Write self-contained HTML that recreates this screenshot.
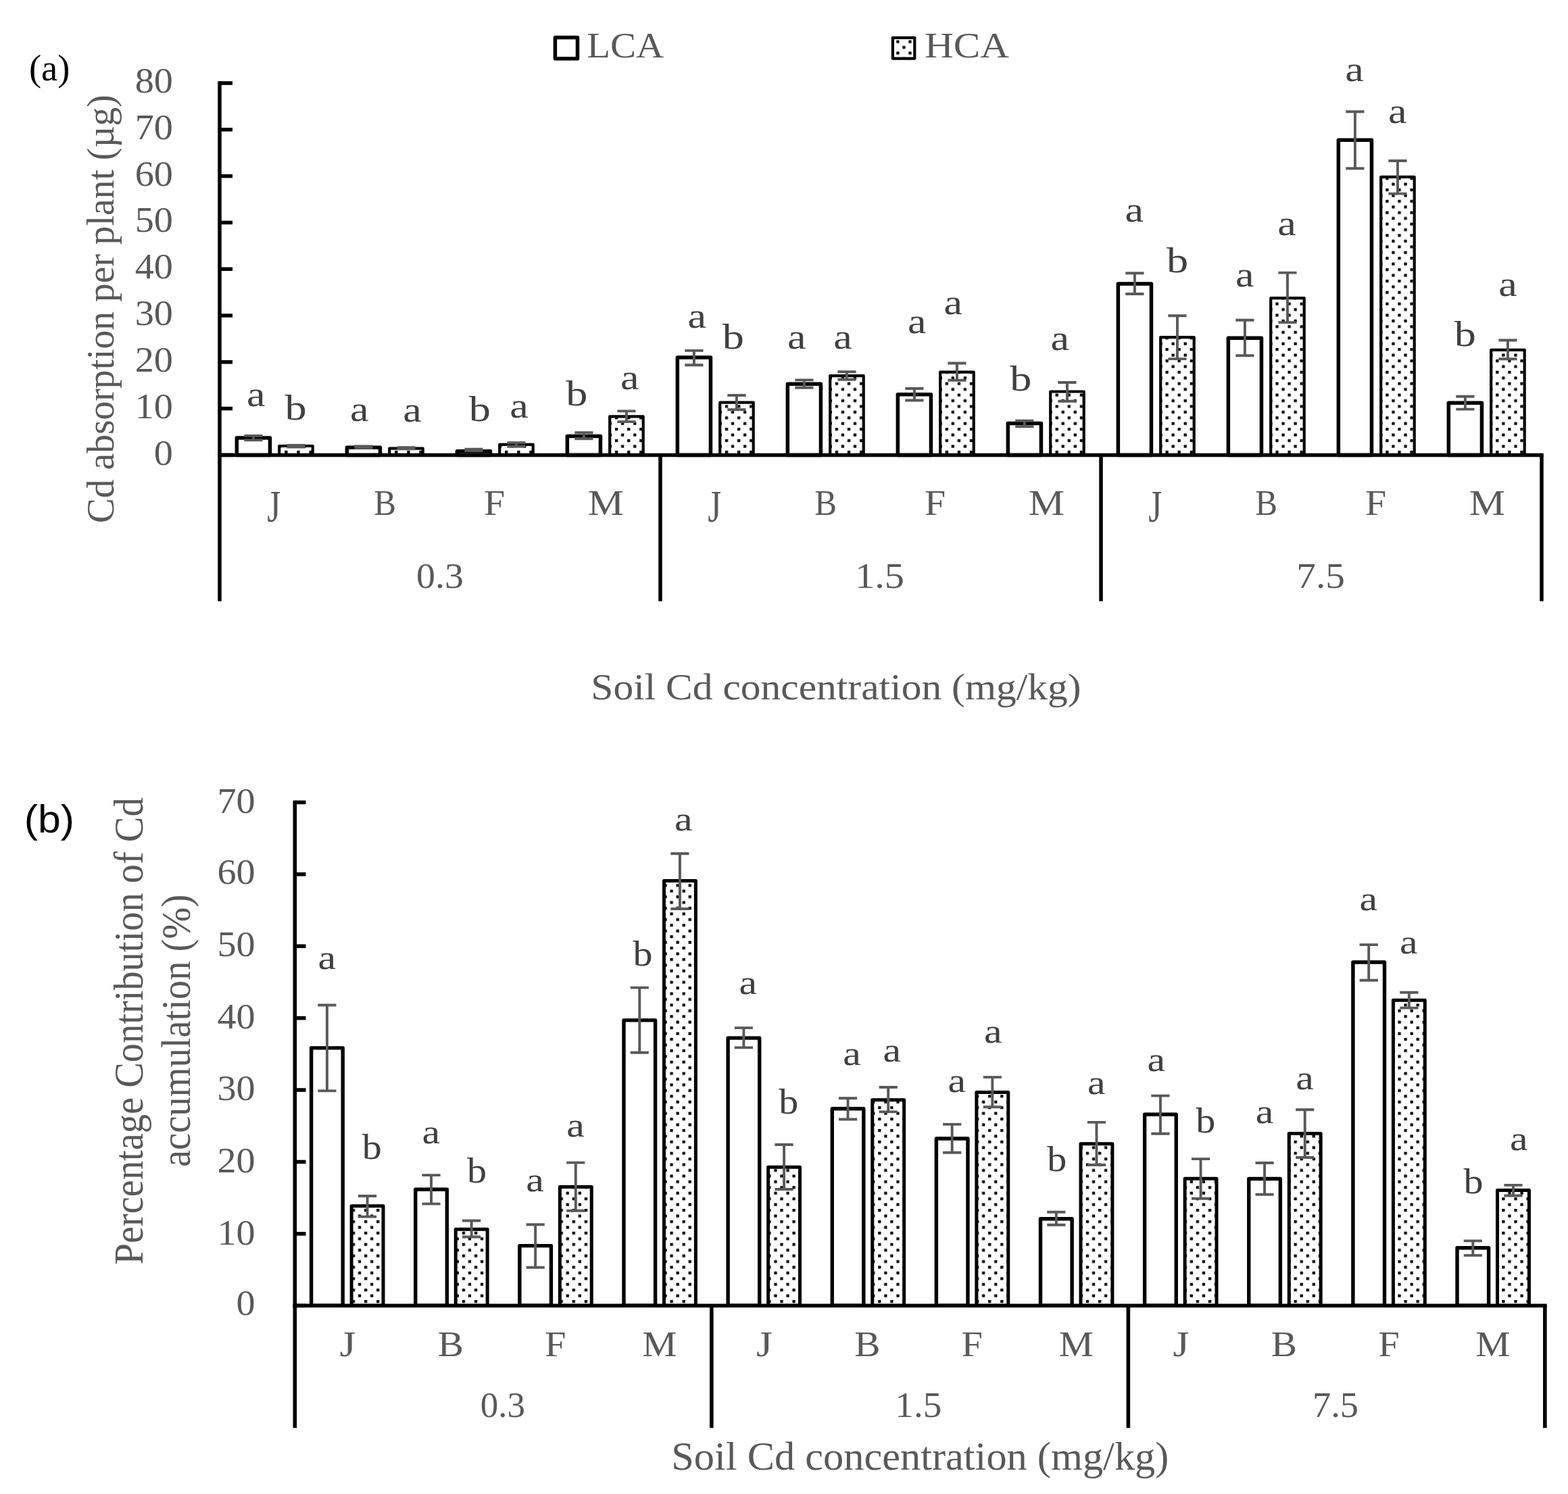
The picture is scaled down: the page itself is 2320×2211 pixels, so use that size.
<!DOCTYPE html>
<html lang="en"><head><meta charset="utf-8"><title>Cd absorption and accumulation</title>
<style>html,body{margin:0;padding:0;background:#fff}body{width:2320px;height:2211px;overflow:hidden}svg{display:block}text{font-kerning:none;white-space:pre}.s{font-family:"Liberation Serif",serif}.n{font-family:"Liberation Sans",sans-serif}</style>
</head><body>
<svg width="2320" height="2211" viewBox="0 0 2320 2211" role="img" aria-label="Bar charts of Cd absorption per plant and percentage contribution of Cd accumulation">
<defs>
<pattern id="pa" patternUnits="userSpaceOnUse" x="4.95" y="8.94" width="18.10" height="16.87">
<rect width="18.10" height="16.87" fill="#fff"/>
<rect x="0" y="0" width="4.3" height="4.3" rx="0.6" fill="#000"/>
<rect x="9.05" y="8.44" width="4.3" height="4.3" rx="0.6" fill="#000"/>
</pattern>
<pattern id="pb" patternUnits="userSpaceOnUse" x="14.05" y="0.76" width="18.10" height="16.87">
<rect width="18.10" height="16.87" fill="#fff"/>
<rect x="0" y="0" width="4.3" height="4.3" rx="0.6" fill="#000"/>
<rect x="9.05" y="8.44" width="4.3" height="4.3" rx="0.6" fill="#000"/>
</pattern>
</defs>
<rect width="2320" height="2211" fill="#fff"/>
<g><rect x="350.35" y="648.05" width="49.10" height="25.35" fill="#fff" stroke="#000" stroke-width="5.5" stroke-linejoin="round"/><rect x="413.20" y="660.00" width="49.50" height="13.40" fill="url(#pa)" stroke="#000" stroke-width="4.2" stroke-linejoin="round"/><rect x="513.35" y="662.25" width="49.10" height="11.15" fill="#fff" stroke="#000" stroke-width="5.5" stroke-linejoin="round"/><rect x="576.20" y="663.70" width="49.50" height="9.70" fill="url(#pa)" stroke="#000" stroke-width="4.2" stroke-linejoin="round"/><rect x="676.35" y="667.65" width="49.10" height="5.75" fill="#fff" stroke="#000" stroke-width="5.5" stroke-linejoin="round"/><rect x="739.20" y="657.80" width="49.50" height="15.60" fill="url(#pa)" stroke="#000" stroke-width="4.2" stroke-linejoin="round"/><rect x="839.35" y="645.55" width="49.10" height="27.85" fill="#fff" stroke="#000" stroke-width="5.5" stroke-linejoin="round"/><rect x="902.20" y="616.30" width="49.50" height="57.10" fill="url(#pa)" stroke="#000" stroke-width="4.2" stroke-linejoin="round"/><rect x="1002.35" y="528.95" width="49.10" height="144.45" fill="#fff" stroke="#000" stroke-width="5.5" stroke-linejoin="round"/><rect x="1065.20" y="595.60" width="49.50" height="77.80" fill="url(#pa)" stroke="#000" stroke-width="4.2" stroke-linejoin="round"/><rect x="1165.35" y="568.25" width="49.10" height="105.15" fill="#fff" stroke="#000" stroke-width="5.5" stroke-linejoin="round"/><rect x="1228.20" y="556.20" width="49.50" height="117.20" fill="url(#pa)" stroke="#000" stroke-width="4.2" stroke-linejoin="round"/><rect x="1328.35" y="583.75" width="49.10" height="89.65" fill="#fff" stroke="#000" stroke-width="5.5" stroke-linejoin="round"/><rect x="1391.20" y="550.60" width="49.50" height="122.80" fill="url(#pa)" stroke="#000" stroke-width="4.2" stroke-linejoin="round"/><rect x="1491.35" y="626.55" width="49.10" height="46.85" fill="#fff" stroke="#000" stroke-width="5.5" stroke-linejoin="round"/><rect x="1554.20" y="579.50" width="49.50" height="93.90" fill="url(#pa)" stroke="#000" stroke-width="4.2" stroke-linejoin="round"/><rect x="1654.35" y="420.05" width="49.10" height="253.35" fill="#fff" stroke="#000" stroke-width="5.5" stroke-linejoin="round"/><rect x="1717.20" y="499.10" width="49.50" height="174.30" fill="url(#pa)" stroke="#000" stroke-width="4.2" stroke-linejoin="round"/><rect x="1817.35" y="500.25" width="49.10" height="173.15" fill="#fff" stroke="#000" stroke-width="5.5" stroke-linejoin="round"/><rect x="1880.20" y="441.20" width="49.50" height="232.20" fill="url(#pa)" stroke="#000" stroke-width="4.2" stroke-linejoin="round"/><rect x="1980.35" y="207.15" width="49.10" height="466.25" fill="#fff" stroke="#000" stroke-width="5.5" stroke-linejoin="round"/><rect x="2043.20" y="261.90" width="49.50" height="411.50" fill="url(#pa)" stroke="#000" stroke-width="4.2" stroke-linejoin="round"/><rect x="2143.35" y="596.15" width="49.10" height="77.25" fill="#fff" stroke="#000" stroke-width="5.5" stroke-linejoin="round"/><rect x="2206.20" y="517.80" width="49.50" height="155.60" fill="url(#pa)" stroke="#000" stroke-width="4.2" stroke-linejoin="round"/></g>
<g fill="none" stroke="#595959" stroke-width="3.9"><path d="M361.30 644.90H388.50M361.30 651.40H388.50M374.90 644.90V651.40"/><path d="M424.35 659.00H451.55M424.35 661.60H451.55M437.95 659.00V661.60"/><path d="M524.30 660.40H551.50M524.30 662.80H551.50M537.90 660.40V662.80"/><path d="M587.35 662.30H614.55M587.35 664.30H614.55M600.95 662.30V664.30"/><path d="M687.30 664.80H714.50M687.30 667.00H714.50M700.90 664.80V667.00"/><path d="M750.35 655.20H777.55M750.35 660.70H777.55M763.95 655.20V660.70"/><path d="M850.30 640.20H877.50M850.30 649.30H877.50M863.90 640.20V649.30"/><path d="M913.35 608.40H940.55M913.35 624.10H940.55M926.95 608.40V624.10"/><path d="M1013.30 518.90H1040.50M1013.30 540.20H1040.50M1026.90 518.90V540.20"/><path d="M1076.35 585.00H1103.55M1076.35 606.30H1103.55M1089.95 585.00V606.30"/><path d="M1176.30 562.40H1203.50M1176.30 573.70H1203.50M1189.90 562.40V573.70"/><path d="M1239.35 550.30H1266.55M1239.35 561.80H1266.55M1252.95 550.30V561.80"/><path d="M1339.30 575.00H1366.50M1339.30 592.50H1366.50M1352.90 575.00V592.50"/><path d="M1402.35 537.50H1429.55M1402.35 562.70H1429.55M1415.95 537.50V562.70"/><path d="M1502.30 622.70H1529.50M1502.30 631.30H1529.50M1515.90 622.70V631.30"/><path d="M1565.35 566.00H1592.55M1565.35 593.80H1592.55M1578.95 566.00V593.80"/><path d="M1665.30 404.30H1692.50M1665.30 435.00H1692.50M1678.90 404.30V435.00"/><path d="M1728.35 467.30H1755.55M1728.35 531.10H1755.55M1741.95 467.30V531.10"/><path d="M1828.30 473.70H1855.50M1828.30 526.20H1855.50M1841.90 473.70V526.20"/><path d="M1891.35 403.60H1918.55M1891.35 477.10H1918.55M1904.95 403.60V477.10"/><path d="M1991.30 165.20H2018.50M1991.30 249.30H2018.50M2004.90 165.20V249.30"/><path d="M2054.35 238.00H2081.55M2054.35 286.60H2081.55M2067.95 238.00V286.60"/><path d="M2154.30 586.80H2181.50M2154.30 605.60H2181.50M2167.90 586.80V605.60"/><path d="M2217.35 503.50H2244.55M2217.35 531.20H2244.55M2230.95 503.50V531.20"/></g>
<g fill="none" stroke="#000" stroke-width="5.5"><path d="M325.00 120.25V889.70"/><path d="M322.25 673.40H2283.75"/><path d="M325.00 673.40H344.00"/><path d="M325.00 604.60H344.00"/><path d="M325.00 535.80H344.00"/><path d="M325.00 467.00H344.00"/><path d="M325.00 398.20H344.00"/><path d="M325.00 329.40H344.00"/><path d="M325.00 260.60H344.00"/><path d="M325.00 191.80H344.00"/><path d="M325.00 123.00H344.00"/><path d="M977.00 673.40V889.70"/><path d="M1629.00 673.40V889.70"/><path d="M2281.00 673.40V889.70"/></g>
<rect x="821.4" y="55.5" width="33.1" height="31.2" fill="#fff" stroke="#000" stroke-width="5.5" stroke-linejoin="round"/>
<rect x="1320.9" y="55.8" width="32.4" height="30.8" fill="url(#pa)" stroke="#000" stroke-width="4.2" stroke-linejoin="round"/>
<text class="s" transform="translate(868.16 84.85) scale(1.0720 1.0000)" font-size="53.20" fill="#595959">LCA</text>
<text class="s" transform="translate(1367.89 84.85) scale(1.1150 1.0000)" font-size="53.20" fill="#595959">HCA</text>
<text class="s" transform="translate(227.80 688.00) scale(1.0580 1.0000)" font-size="53.20" fill="#595959">0</text>
<text class="s" transform="translate(199.66 618.60) scale(1.0580 1.0000)" font-size="53.20" fill="#595959">10</text>
<text class="s" transform="translate(199.66 549.80) scale(1.0580 1.0000)" font-size="53.20" fill="#595959">20</text>
<text class="s" transform="translate(199.66 481.00) scale(1.0580 1.0000)" font-size="53.20" fill="#595959">30</text>
<text class="s" transform="translate(199.66 412.20) scale(1.0580 1.0000)" font-size="53.20" fill="#595959">40</text>
<text class="s" transform="translate(199.66 343.40) scale(1.0580 1.0000)" font-size="53.20" fill="#595959">50</text>
<text class="s" transform="translate(199.66 274.60) scale(1.0580 1.0000)" font-size="53.20" fill="#595959">60</text>
<text class="s" transform="translate(199.66 205.80) scale(1.0580 1.0000)" font-size="53.20" fill="#595959">70</text>
<text class="s" transform="translate(199.66 137.00) scale(1.0580 1.0000)" font-size="53.20" fill="#595959">80</text>
<text class="s" transform="translate(395.32 771.64) scale(0.9638 1.2728)" font-size="53.20" fill="#595959">J</text>
<text class="s" transform="translate(553.18 761.90) scale(0.9249 1.0000)" font-size="53.20" fill="#595959">B</text>
<text class="s" transform="translate(715.94 761.90) scale(1.0523 1.0000)" font-size="53.20" fill="#595959">F</text>
<text class="s" transform="translate(869.67 761.90) scale(1.1264 1.0000)" font-size="53.20" fill="#595959">M</text>
<text class="s" transform="translate(615.97 869.80) scale(1.0514 1.0000)" font-size="53.20" fill="#595959">0.3</text>
<text class="s" transform="translate(1047.32 771.64) scale(0.9638 1.2728)" font-size="53.20" fill="#595959">J</text>
<text class="s" transform="translate(1205.18 761.90) scale(0.9249 1.0000)" font-size="53.20" fill="#595959">B</text>
<text class="s" transform="translate(1367.94 761.90) scale(1.0523 1.0000)" font-size="53.20" fill="#595959">F</text>
<text class="s" transform="translate(1521.67 761.90) scale(1.1264 1.0000)" font-size="53.20" fill="#595959">M</text>
<text class="s" transform="translate(1264.97 869.80) scale(1.0980 1.0000)" font-size="53.20" fill="#595959">1.5</text>
<text class="s" transform="translate(1699.32 771.64) scale(0.9638 1.2728)" font-size="53.20" fill="#595959">J</text>
<text class="s" transform="translate(1857.18 761.90) scale(0.9249 1.0000)" font-size="53.20" fill="#595959">B</text>
<text class="s" transform="translate(2019.94 761.90) scale(1.0523 1.0000)" font-size="53.20" fill="#595959">F</text>
<text class="s" transform="translate(2173.67 761.90) scale(1.1264 1.0000)" font-size="53.20" fill="#595959">M</text>
<text class="s" transform="translate(1918.32 869.80) scale(1.0769 1.0000)" font-size="53.20" fill="#595959">7.5</text>
<text class="s" transform="translate(874.32 1035.30) scale(1.0820 1.0000)" font-size="55.00" fill="#595959">Soil Cd concentration (mg/kg)</text>
<text class="s" transform="translate(167.70 774.28) rotate(-90) scale(0.9927 1.0000)" font-size="56.00" fill="#595959">Cd absorption per plant (µg)</text>
<text class="s" transform="translate(364.92 600.70) scale(1.1859 1.0000)" font-size="52.30" fill="#404040">a</text>
<text class="s" transform="translate(421.60 621.00) scale(1.2178 1.0000)" font-size="52.80" fill="#404040">b</text>
<text class="s" transform="translate(517.97 623.10) scale(1.1859 1.0000)" font-size="52.30" fill="#404040">a</text>
<text class="s" transform="translate(596.17 623.90) scale(1.1859 1.0000)" font-size="52.30" fill="#404040">a</text>
<text class="s" transform="translate(693.65 623.10) scale(1.2178 1.0000)" font-size="52.80" fill="#404040">b</text>
<text class="s" transform="translate(754.22 618.20) scale(1.1859 1.0000)" font-size="52.30" fill="#404040">a</text>
<text class="s" transform="translate(837.20 599.90) scale(1.2178 1.0000)" font-size="52.80" fill="#404040">b</text>
<text class="s" transform="translate(917.92 576.20) scale(1.1859 1.0000)" font-size="52.30" fill="#404040">a</text>
<text class="s" transform="translate(1017.57 484.80) scale(1.1859 1.0000)" font-size="52.30" fill="#404040">a</text>
<text class="s" transform="translate(1068.65 515.70) scale(1.2178 1.0000)" font-size="52.80" fill="#404040">b</text>
<text class="s" transform="translate(1164.92 515.70) scale(1.1859 1.0000)" font-size="52.30" fill="#404040">a</text>
<text class="s" transform="translate(1233.22 515.70) scale(1.1859 1.0000)" font-size="52.30" fill="#404040">a</text>
<text class="s" transform="translate(1343.07 492.80) scale(1.1859 1.0000)" font-size="52.30" fill="#404040">a</text>
<text class="s" transform="translate(1396.62 465.40) scale(1.1859 1.0000)" font-size="52.30" fill="#404040">a</text>
<text class="s" transform="translate(1494.15 577.50) scale(1.2178 1.0000)" font-size="52.80" fill="#404040">b</text>
<text class="s" transform="translate(1554.62 518.40) scale(1.1859 1.0000)" font-size="52.30" fill="#404040">a</text>
<text class="s" transform="translate(1664.42 328.00) scale(1.1859 1.0000)" font-size="52.30" fill="#404040">a</text>
<text class="s" transform="translate(1726.10 402.80) scale(1.2178 1.0000)" font-size="52.80" fill="#404040">b</text>
<text class="s" transform="translate(1828.02 423.90) scale(1.1859 1.0000)" font-size="52.30" fill="#404040">a</text>
<text class="s" transform="translate(1890.27 348.40) scale(1.1859 1.0000)" font-size="52.30" fill="#404040">a</text>
<text class="s" transform="translate(1990.27 120.20) scale(1.1859 1.0000)" font-size="52.30" fill="#404040">a</text>
<text class="s" transform="translate(2053.92 182.30) scale(1.1859 1.0000)" font-size="52.30" fill="#404040">a</text>
<text class="s" transform="translate(2151.70 511.90) scale(1.2178 1.0000)" font-size="52.80" fill="#404040">b</text>
<text class="s" transform="translate(2217.37 437.50) scale(1.1859 1.0000)" font-size="52.30" fill="#404040">a</text>
<text class="s" transform="translate(42.90 118.80) scale(1.0074 1.0000)" font-size="54.20" fill="#000">(a)</text>
<g><rect x="460.60" y="1550.90" width="46.60" height="381.40" fill="#fff" stroke="#000" stroke-width="5.4" stroke-linejoin="round"/><rect x="520.10" y="1784.70" width="46.90" height="147.60" fill="url(#pb)" stroke="#000" stroke-width="5.0" stroke-linejoin="round"/><rect x="614.73" y="1760.30" width="46.60" height="172.00" fill="#fff" stroke="#000" stroke-width="5.4" stroke-linejoin="round"/><rect x="674.23" y="1819.30" width="46.90" height="113.00" fill="url(#pb)" stroke="#000" stroke-width="5.0" stroke-linejoin="round"/><rect x="768.86" y="1843.60" width="46.60" height="88.70" fill="#fff" stroke="#000" stroke-width="5.4" stroke-linejoin="round"/><rect x="828.36" y="1756.40" width="46.90" height="175.90" fill="url(#pb)" stroke="#000" stroke-width="5.0" stroke-linejoin="round"/><rect x="922.99" y="1509.90" width="46.60" height="422.40" fill="#fff" stroke="#000" stroke-width="5.4" stroke-linejoin="round"/><rect x="982.49" y="1303.60" width="46.90" height="628.70" fill="url(#pb)" stroke="#000" stroke-width="5.0" stroke-linejoin="round"/><rect x="1077.12" y="1536.10" width="46.60" height="396.20" fill="#fff" stroke="#000" stroke-width="5.4" stroke-linejoin="round"/><rect x="1136.62" y="1727.30" width="46.90" height="205.00" fill="url(#pb)" stroke="#000" stroke-width="5.0" stroke-linejoin="round"/><rect x="1231.25" y="1640.70" width="46.60" height="291.60" fill="#fff" stroke="#000" stroke-width="5.4" stroke-linejoin="round"/><rect x="1290.75" y="1627.70" width="46.90" height="304.60" fill="url(#pb)" stroke="#000" stroke-width="5.0" stroke-linejoin="round"/><rect x="1385.38" y="1685.00" width="46.60" height="247.30" fill="#fff" stroke="#000" stroke-width="5.4" stroke-linejoin="round"/><rect x="1444.88" y="1616.50" width="46.90" height="315.80" fill="url(#pb)" stroke="#000" stroke-width="5.0" stroke-linejoin="round"/><rect x="1539.51" y="1803.80" width="46.60" height="128.50" fill="#fff" stroke="#000" stroke-width="5.4" stroke-linejoin="round"/><rect x="1599.01" y="1692.70" width="46.90" height="239.60" fill="url(#pb)" stroke="#000" stroke-width="5.0" stroke-linejoin="round"/><rect x="1693.64" y="1649.20" width="46.60" height="283.10" fill="#fff" stroke="#000" stroke-width="5.4" stroke-linejoin="round"/><rect x="1753.14" y="1744.30" width="46.90" height="188.00" fill="url(#pb)" stroke="#000" stroke-width="5.0" stroke-linejoin="round"/><rect x="1847.77" y="1744.50" width="46.60" height="187.80" fill="#fff" stroke="#000" stroke-width="5.4" stroke-linejoin="round"/><rect x="1907.27" y="1677.40" width="46.90" height="254.90" fill="url(#pb)" stroke="#000" stroke-width="5.0" stroke-linejoin="round"/><rect x="2001.90" y="1424.00" width="46.60" height="508.30" fill="#fff" stroke="#000" stroke-width="5.4" stroke-linejoin="round"/><rect x="2061.40" y="1480.30" width="46.90" height="452.00" fill="url(#pb)" stroke="#000" stroke-width="5.0" stroke-linejoin="round"/><rect x="2156.03" y="1846.70" width="46.60" height="85.60" fill="#fff" stroke="#000" stroke-width="5.4" stroke-linejoin="round"/><rect x="2215.53" y="1761.60" width="46.90" height="170.70" fill="url(#pb)" stroke="#000" stroke-width="5.0" stroke-linejoin="round"/></g>
<g fill="none" stroke="#595959" stroke-width="3.9"><path d="M470.30 1487.50H497.50M470.30 1614.40H497.50M483.90 1487.50V1614.40"/><path d="M529.95 1770.00H557.15M529.95 1800.60H557.15M543.55 1770.00V1800.60"/><path d="M624.43 1739.10H651.63M624.43 1781.60H651.63M638.03 1739.10V1781.60"/><path d="M684.08 1806.50H711.28M684.08 1830.50H711.28M697.68 1806.50V1830.50"/><path d="M778.56 1812.20H805.76M778.56 1875.80H805.76M792.16 1812.20V1875.80"/><path d="M838.21 1720.60H865.41M838.21 1791.70H865.41M851.81 1720.60V1791.70"/><path d="M932.69 1461.60H959.89M932.69 1557.70H959.89M946.29 1461.60V1557.70"/><path d="M992.34 1263.30H1019.54M992.34 1345.00H1019.54M1005.94 1263.30V1345.00"/><path d="M1086.82 1521.10H1114.02M1086.82 1550.40H1114.02M1100.42 1521.10V1550.40"/><path d="M1146.47 1694.00H1173.67M1146.47 1760.00H1173.67M1160.07 1694.00V1760.00"/><path d="M1240.95 1625.20H1268.15M1240.95 1656.50H1268.15M1254.55 1625.20V1656.50"/><path d="M1300.60 1609.00H1327.80M1300.60 1645.40H1327.80M1314.20 1609.00V1645.40"/><path d="M1395.08 1663.90H1422.28M1395.08 1705.80H1422.28M1408.68 1663.90V1705.80"/><path d="M1454.73 1594.10H1481.93M1454.73 1638.30H1481.93M1468.33 1594.10V1638.30"/><path d="M1549.21 1793.70H1576.41M1549.21 1812.80H1576.41M1562.81 1793.70V1812.80"/><path d="M1608.86 1660.90H1636.06M1608.86 1724.00H1636.06M1622.46 1660.90V1724.00"/><path d="M1703.34 1621.60H1730.54M1703.34 1677.70H1730.54M1716.94 1621.60V1677.70"/><path d="M1762.99 1715.10H1790.19M1762.99 1773.70H1790.19M1776.59 1715.10V1773.70"/><path d="M1857.47 1721.00H1884.67M1857.47 1767.80H1884.67M1871.07 1721.00V1767.80"/><path d="M1917.12 1642.30H1944.32M1917.12 1713.00H1944.32M1930.72 1642.30V1713.00"/><path d="M2011.60 1398.10H2038.80M2011.60 1450.70H2038.80M2025.20 1398.10V1450.70"/><path d="M2071.25 1468.70H2098.45M2071.25 1491.60H2098.45M2084.85 1468.70V1491.60"/><path d="M2165.73 1836.40H2192.93M2165.73 1857.90H2192.93M2179.33 1836.40V1857.90"/><path d="M2225.38 1753.90H2252.58M2225.38 1769.50H2252.58M2238.98 1753.90V1769.50"/></g>
<g fill="none" stroke="#000" stroke-width="5.6"><path d="M436.30 1184.63V2113.30"/><path d="M433.50 1932.30H2288.66"/><path d="M436.30 1932.30H452.50"/><path d="M436.30 1825.89H452.50"/><path d="M436.30 1719.48H452.50"/><path d="M436.30 1613.07H452.50"/><path d="M436.30 1506.66H452.50"/><path d="M436.30 1400.25H452.50"/><path d="M436.30 1293.84H452.50"/><path d="M436.30 1187.43H452.50"/><path d="M1052.82 1932.30V2113.30"/><path d="M1669.34 1932.30V2113.30"/><path d="M2285.86 1932.30V2113.30"/></g>
<text class="s" transform="translate(349.46 1946.40) scale(1.0800 1.0000)" font-size="52.00" fill="#595959">0</text>
<text class="s" transform="translate(321.38 1841.79) scale(1.0800 1.0000)" font-size="52.00" fill="#595959">10</text>
<text class="s" transform="translate(321.38 1735.08) scale(1.0800 1.0000)" font-size="52.00" fill="#595959">20</text>
<text class="s" transform="translate(321.38 1628.07) scale(1.0800 1.0000)" font-size="52.00" fill="#595959">30</text>
<text class="s" transform="translate(321.38 1522.06) scale(1.0800 1.0000)" font-size="52.00" fill="#595959">40</text>
<text class="s" transform="translate(321.38 1415.25) scale(1.0800 1.0000)" font-size="52.00" fill="#595959">50</text>
<text class="s" transform="translate(321.38 1308.24) scale(1.0800 1.0000)" font-size="52.00" fill="#595959">60</text>
<text class="s" transform="translate(321.38 1203.33) scale(1.0800 1.0000)" font-size="52.00" fill="#595959">70</text>
<text class="s" transform="translate(502.43 2006.80) scale(1.1799 1.0000)" font-size="52.00" fill="#595959">J</text>
<text class="s" transform="translate(647.74 2006.80) scale(1.1029 1.0000)" font-size="52.00" fill="#595959">B</text>
<text class="s" transform="translate(806.09 2006.80) scale(1.0884 1.0000)" font-size="52.00" fill="#595959">F</text>
<text class="s" transform="translate(950.14 2006.80) scale(1.1084 1.0000)" font-size="52.00" fill="#595959">M</text>
<text class="s" transform="translate(710.64 2096.80) scale(1.0199 1.0000)" font-size="52.00" fill="#595959">0.3</text>
<text class="s" transform="translate(1118.95 2006.80) scale(1.1799 1.0000)" font-size="52.00" fill="#595959">J</text>
<text class="s" transform="translate(1264.26 2006.80) scale(1.1029 1.0000)" font-size="52.00" fill="#595959">B</text>
<text class="s" transform="translate(1422.61 2006.80) scale(1.0884 1.0000)" font-size="52.00" fill="#595959">F</text>
<text class="s" transform="translate(1566.66 2006.80) scale(1.1084 1.0000)" font-size="52.00" fill="#595959">M</text>
<text class="s" transform="translate(1324.31 2096.80) scale(1.0651 1.0000)" font-size="52.00" fill="#595959">1.5</text>
<text class="s" transform="translate(1735.47 2006.80) scale(1.1799 1.0000)" font-size="52.00" fill="#595959">J</text>
<text class="s" transform="translate(1880.78 2006.80) scale(1.1029 1.0000)" font-size="52.00" fill="#595959">B</text>
<text class="s" transform="translate(2039.13 2006.80) scale(1.0884 1.0000)" font-size="52.00" fill="#595959">F</text>
<text class="s" transform="translate(2183.18 2006.80) scale(1.1084 1.0000)" font-size="52.00" fill="#595959">M</text>
<text class="s" transform="translate(1942.12 2096.80) scale(1.0447 1.0000)" font-size="52.00" fill="#595959">7.5</text>
<text class="s" transform="translate(993.26 2175.00) scale(1.0323 1.0000)" font-size="58.50" fill="#595959">Soil Cd concentration (mg/kg)</text>
<text class="s" transform="translate(211.00 1871.43) rotate(-90) scale(0.9253 1.0000)" font-size="61.00" fill="#595959">Percentage Contribution of Cd</text>
<text class="s" transform="translate(280.50 1726.99) rotate(-90) scale(0.9265 1.0000)" font-size="61.00" fill="#595959">accumulation (%)</text>
<text class="s" transform="translate(470.39 1433.50) scale(1.1627 1.0000)" font-size="51.60" fill="#404040">a</text>
<text class="s" transform="translate(535.75 1714.90) scale(1.1179 1.0000)" font-size="51.90" fill="#404040">b</text>
<text class="s" transform="translate(624.59 1692.40) scale(1.1627 1.0000)" font-size="51.60" fill="#404040">a</text>
<text class="s" transform="translate(691.10 1750.00) scale(1.1179 1.0000)" font-size="51.90" fill="#404040">b</text>
<text class="s" transform="translate(778.34 1763.30) scale(1.1627 1.0000)" font-size="51.60" fill="#404040">a</text>
<text class="s" transform="translate(838.34 1682.00) scale(1.1627 1.0000)" font-size="51.60" fill="#404040">a</text>
<text class="s" transform="translate(936.40 1428.80) scale(1.1179 1.0000)" font-size="51.90" fill="#404040">b</text>
<text class="s" transform="translate(997.99 1228.80) scale(1.1627 1.0000)" font-size="51.60" fill="#404040">a</text>
<text class="s" transform="translate(1093.59 1470.80) scale(1.1627 1.0000)" font-size="51.60" fill="#404040">a</text>
<text class="s" transform="translate(1152.35 1648.10) scale(1.1179 1.0000)" font-size="51.90" fill="#404040">b</text>
<text class="s" transform="translate(1247.19 1575.70) scale(1.1627 1.0000)" font-size="51.60" fill="#404040">a</text>
<text class="s" transform="translate(1306.39 1571.30) scale(1.1627 1.0000)" font-size="51.60" fill="#404040">a</text>
<text class="s" transform="translate(1402.39 1615.90) scale(1.1627 1.0000)" font-size="51.60" fill="#404040">a</text>
<text class="s" transform="translate(1455.89 1542.60) scale(1.1627 1.0000)" font-size="51.60" fill="#404040">a</text>
<text class="s" transform="translate(1549.15 1733.10) scale(1.1179 1.0000)" font-size="51.90" fill="#404040">b</text>
<text class="s" transform="translate(1609.09 1618.80) scale(1.1627 1.0000)" font-size="51.60" fill="#404040">a</text>
<text class="s" transform="translate(1697.59 1584.50) scale(1.1627 1.0000)" font-size="51.60" fill="#404040">a</text>
<text class="s" transform="translate(1769.25 1675.70) scale(1.1179 1.0000)" font-size="51.90" fill="#404040">b</text>
<text class="s" transform="translate(1857.79 1661.50) scale(1.1627 1.0000)" font-size="51.60" fill="#404040">a</text>
<text class="s" transform="translate(1917.24 1612.30) scale(1.1627 1.0000)" font-size="51.60" fill="#404040">a</text>
<text class="s" transform="translate(2011.39 1346.50) scale(1.1627 1.0000)" font-size="51.60" fill="#404040">a</text>
<text class="s" transform="translate(2070.99 1411.30) scale(1.1627 1.0000)" font-size="51.60" fill="#404040">a</text>
<text class="s" transform="translate(2165.45 1766.40) scale(1.1179 1.0000)" font-size="51.90" fill="#404040">b</text>
<text class="s" transform="translate(2234.04 1702.30) scale(1.1627 1.0000)" font-size="51.60" fill="#404040">a</text>
<text class="n" transform="translate(35.73 1232.20) scale(1.0472 1.0000)" font-size="58.00" fill="#000">(b)</text>
</svg>
</body></html>
